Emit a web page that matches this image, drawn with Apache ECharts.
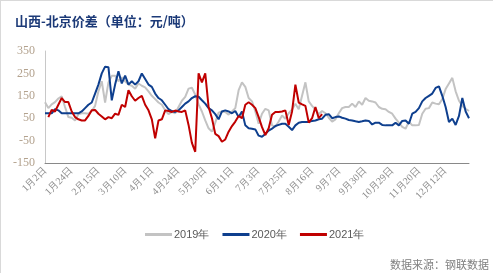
<!DOCTYPE html>
<html>
<head>
<meta charset="utf-8">
<script src="https://cdn.jsdelivr.net/npm/echarts@6/dist/echarts.min.js"></script>
<style>
  html, body { margin: 0; padding: 0; background: #fff; }
  #chart { width: 493px; height: 273px; box-sizing: border-box; border-left: 1px solid #d9d9d9; border-top: 1px solid #d9d9d9; }
</style>
</head>
<body>
<div id="chart"></div>
<script>
// tick labels shown every 8th category
var tickLabels = ['1月2日', '1月24日', '2月15日', '3月10日', '4月1日', '4月24日', '5月20日', '6月11日',
  '7月3日', '7月25日', '8月16日', '9月7日', '9月30日', '10月29日', '11月20日', '12月12日'];
var pointCount = 128;
var categories = [];
for (var c = 0; c < pointCount; c++) {
  categories.push(c % 8 === 0 ? tickLabels[c / 8] : 'd' + c);
}

var data2019 = [121, 95, 112, 122, 138, 148, 100, 55, 52, 40, 68, 72, 72, 70, 82, 105,
  170, 215, 120, 210, 239, 240, 215, 232, 215, 200, 195, 182, 205, 195, 188, 170,
  150, 135, 120, 110, 85, 68, 78, 72, 100, 128, 145, 182, 186, 155, 112, 80,
  40, 5, -10, 30, 75, 80, 78, 66, 80, 95, 175, 210, 190, 140, 125, 80,
  25, 70, 92, 85, 18, 12, 35, 62, 48, 72, 88, 115, 90, 150, 210, 125,
  105, 88, 68, 82, 72, 52, 35, 45, 72, 95, 100, 100, 115, 100, 125, 110,
  140, 128, 125, 120, 100, 92, 90, 78, 70, 48, 30, 11, 3, 35, 18, 18,
  20, 70, 92, 95, 120, 115, 112, 135, 180, 205, 230, 170, 128, 105, 92, 82];

var data2020 = [72, 72, 72, 90, 85, 72, 72, 72, 72, 72, 72, 80, 95, 110, 120, 160,
  200, 250, 280, 278, 130, 200, 260, 205, 240, 200, 215, 200, 215, 250, 225, 200,
  190, 160, 140, 130, 110, 90, 82, 78, 85, 100, 115, 125, 140, 148, 146, 130,
  115, 95, 85, 68, 45, 80, 85, 80, 72, 82, 55, 80, 18, 5, 3, 0,
  -28, -33, -20, -5, 3, 15, 20, 25, 25, 12, -3, 18, 30, 33, 33, 33,
  38, 40, 45, 48, 65, 68, 50, 55, 58, 52, 48, 42, 40, 36, 33, 36,
  40, 38, 22, 30, 30, 20, 18, 18, 18, 30, 18, 38, 40, 25, 70, 78,
  95, 125, 140, 150, 160, 185, 192, 150, 100, 33, 48, 20, 60, 140, 80, 50];

var data2021 = [null, 55, 87, 80, 110, 140, 122, 122, 80, 55, 45, 40, 40, 60, 85, 87,
  70, 58, 45, 55, 50, 70, 65, 110, 100, 175, 148, 128, 140, 150, 110, 85,
  45, -40, 40, 45, 85, 82, 78, 84, 80, 78, 85, 20, -60, -100, 250, 210,
  250, 100, 50, -20, -30, -55, -45, -10, 15, 35, 60, 50, 110, 121, 110, 95,
  55, 10, -25, 5, 65, 78, 78, 80, 85, 20, 80, 200, 120, 112, 105, 30,
  50, 100, 50, 68];

var chart = echarts.init(document.getElementById('chart'));

var option = {
  animation: false,
  title: {
    text: '山西-北京价差（单位：元/吨）',
    left: 9,
    top: 9,
    textStyle: {
      fontFamily: 'Noto Sans CJK SC',
      fontSize: 13,
      fontWeight: 'bold',
      color: '#1c3a78'
    }
  },
  grid: {
    left: 44,
    right: 24,
    top: 50,
    bottom: 110
  },
  legend: {
    bottom: 28,
    left: 139,
    itemWidth: 27,
    itemHeight: 3,
    itemGap: 13,
    icon: 'rect',
    textStyle: {
      fontFamily: 'Liberation Sans',
      fontSize: 11,
      color: '#595959',
      padding: [0, 0, 0, -3]
    },
    data: ['2019年', '2020年', '2021年']
  },
  xAxis: {
    type: 'category',
    boundaryGap: false,
    data: categories,
    axisLine: { onZero: false, lineStyle: { color: '#898989', width: 1 } },
    axisTick: { show: false },
    axisLabel: {
      interval: 7,
      rotate: 45,
      margin: 6,
      fontFamily: 'Liberation Serif',
      fontSize: 10,
      color: '#8c8c8c',
      formatter: function(value, index) {
        return tickLabels[index / 8] || '';
      }
    }
  },
  yAxis: {
    type: 'value',
    min: -150,
    max: 350,
    interval: 100,
    axisLine: { show: true, onZero: false, lineStyle: { color: '#c8c8c8' } },
    axisTick: { show: false },
    splitLine: { show: false },
    axisLabel: {
      margin: 10,
      fontFamily: 'Liberation Serif',
      fontSize: 12,
      color: '#b3a28e'
    }
  },
  series: [
    {
      name: '2019年',
      type: 'line',
      data: data2019,
      showSymbol: false,
      lineStyle: { color: '#c3c3c3', width: 2 },
      itemStyle: { color: '#c3c3c3' }
    },
    {
      name: '2020年',
      type: 'line',
      data: data2020,
      showSymbol: false,
      lineStyle: { color: '#0e3f8e', width: 2 },
      itemStyle: { color: '#0e3f8e' }
    },
    {
      name: '2021年',
      type: 'line',
      data: data2021,
      showSymbol: false,
      lineStyle: { color: '#c00000', width: 2 },
      itemStyle: { color: '#c00000' }
    }
  ],
  graphic: [
    {
      type: 'text',
      right: 4,
      bottom: 3,
      style: {
        text: '数据来源：钢联数据',
        fontFamily: 'Noto Sans CJK SC',
        fontSize: 11,
        fill: '#7f7f7f'
      }
    }
  ]
};

chart.setOption(option);
</script>
</body>
</html>
